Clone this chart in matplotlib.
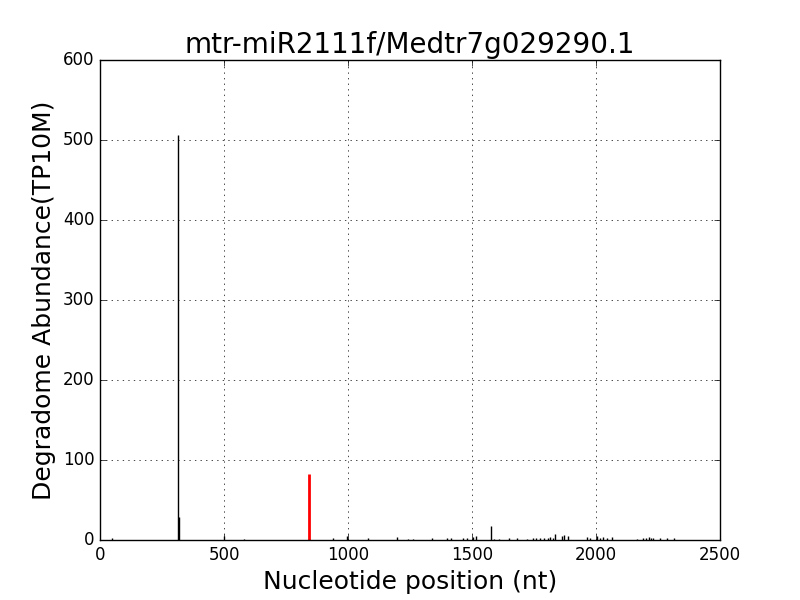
import matplotlib
matplotlib.use("Agg")
import matplotlib.pyplot as plt

# degradome reads along the transcript
pos = [50, 316, 319, 500, 581, 940, 995, 1080, 1197, 1242, 1262,
       1338, 1398, 1416, 1462, 1480, 1503, 1515, 1577, 1590, 1610, 1650, 1680,
       1720, 1746, 1760, 1775, 1790, 1805, 1815, 1827, 1835, 1863, 1870, 1887,
       1963, 1975, 2003, 2018, 2030, 2045, 2064, 2164, 2190, 2200, 2212, 2222,
       2230, 2260, 2285, 2315]
abund = [2, 506, 29, 5, 1, 3, 5, 2, 4, 1, 1,
         2, 2, 3, 2, 2, 4, 5, 17, 1, 1, 2, 2,
         1, 2, 3, 2, 3, 3, 4, 3, 7, 5, 6, 5,
         4, 2, 5, 3, 4, 3, 4, 1, 3, 3, 4, 3,
         3, 2, 2, 2]
# miRNA cleavage site
site_pos = 843
site_abund = 83

plt.style.use('classic')
fig, ax = plt.subplots(figsize=(8, 6), dpi=100)
ax.vlines(pos, 0, abund, colors='k', linewidth=1)
ax.vlines([site_pos], 0, [site_abund], colors='r', linewidth=2)
ax.set_xlim(0, 2500)
ax.set_ylim(0, 600)
ax.grid(True)
ax.tick_params(labelsize=12)
ax.set_title('mtr-miR2111f/Medtr7g029290.1', fontsize=20)
ax.set_xlabel('Nucleotide position (nt)', fontsize=18)
ax.set_ylabel('Degradome Abundance(TP10M)', fontsize=18)
fig.subplots_adjust(left=0.125, right=0.9, bottom=0.1, top=0.9)
fig.savefig('out.png', dpi=100)
